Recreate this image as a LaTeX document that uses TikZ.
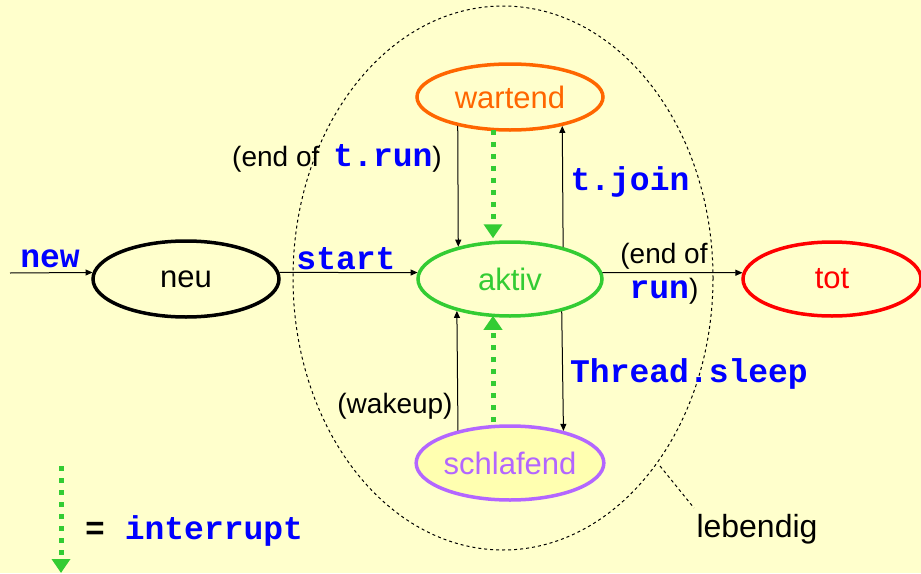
\documentclass[tikz,border=0pt]{standalone}
\usepackage{fontspec}
\setmainfont{Liberation Sans}
\setmonofont{Liberation Mono}
\usetikzlibrary{shapes.geometric,arrows.meta,calc}
\definecolor{bg}{HTML}{FFFFCC}
\definecolor{grn}{HTML}{33CC33}
\definecolor{org}{HTML}{FF6600}
\definecolor{prp}{HTML}{B366FF}
\definecolor{blu}{HTML}{0000FF}
\definecolor{sfill}{HTML}{FFFFB0}
\tikzset{
  state/.style={ellipse, line width=3.5pt, inner sep=0pt, font=\fontsize{31}{36}\selectfont},
  conn/.style={line width=1pt, -{Triangle[length=7pt,width=6pt]}},
  intr/.style={draw=grn, line width=5pt, dash pattern=on 5pt off 7pt, -{Triangle[length=14pt,width=18pt,fill=grn]}},
  code/.style={text=blu, font=\fontsize{33}{38}\selectfont\ttfamily\bfseries, inner sep=0pt},
  lbl/.style={font=\fontsize{28}{32}\selectfont, inner sep=0pt},
}
\begin{document}
\begin{tikzpicture}[x=1pt,y=-1pt]
\useasboundingbox[fill=bg] (0,0) rectangle (921,573);
% lebendig region
\draw[line width=1pt, dash pattern=on 3pt off 3pt] (503,278) ellipse [x radius=210, y radius=272];
% states
\node[state, draw=black, minimum width=186pt, minimum height=76pt] (neu) at (186,279) {neu};
\node[state, draw=grn, text=grn, minimum width=184pt, minimum height=74pt] (aktiv) at (510,279) {aktiv};
\node[state, draw=org, text=org, minimum width=186pt, minimum height=66pt] (wartend) at (510,97) {wartend};
\node[state, draw=prp, text=prp, fill=sfill, minimum width=186pt, minimum height=74pt] (schlafend) at (510,463) {schlafend};
\node[state, draw=red, text=red, minimum width=178pt, minimum height=74pt] (tot) at (832,279) {tot};
% connectors
\coordinate (in) at (10,273);
\draw[conn] (in) -- (neu.176);
\draw[conn] (neu.4) -- (aktiv.176);
\draw[conn] (aktiv.4) -- (tot.176);
\draw[conn] (wartend.209.1) -- (aktiv.148.2);
\draw[conn] (aktiv.31.1) -- (wartend.331.6);
\draw[conn] (aktiv.328.9) -- (schlafend.31.2);
\draw[conn] (schlafend.148.0) -- (aktiv.211.8);
\draw[intr] ($(wartend.south)+(-17,-2)$) -- ($(aktiv.north)+(-17,-2)$);
\draw[intr] ($(schlafend.north)+(-17,-2)$) -- ($(aktiv.south)+(-17,-2)$);
% labels
\node[code] (lnew) at (50,259) {new};
\node[code] (lstart) at (346,259) {start};
\node[lbl] (lendrun) at (337,158) {(end of\hspace{14pt}{\color{blu}\fontsize{33}{38}\selectfont\ttfamily\bfseries t.run})};
\node[code] (ljoin) at (630,182) {t.join};
\node[lbl] (lend2) at (664,256) {(end of};
\node[lbl] (lrun) at (664,291) {{\color{blu}\fontsize{33}{38}\selectfont\ttfamily\bfseries run})};
\node[code] (lsleep) at (689,374) {Thread.sleep};
\node[lbl] (lwake) at (395,406) {(wakeup)};
% legend
\coordinate (lg1) at (61,466);
\coordinate (lg2) at (61,573);
\draw[intr] (lg1) -- (lg2);
\node[code, anchor=west] (linter) at (85,531) {{\color{black}=} interrupt};
% lebendig label
\node[font=\fontsize{32}{36}\selectfont, inner sep=0pt] (lleb) at (757,529) {lebendig};
\coordinate (ld1) at (660,466);
\coordinate (ld2) at (694,508);
\draw[line width=1pt, dash pattern=on 3pt off 3pt] (ld1) -- (ld2);
\end{tikzpicture}
\end{document}
